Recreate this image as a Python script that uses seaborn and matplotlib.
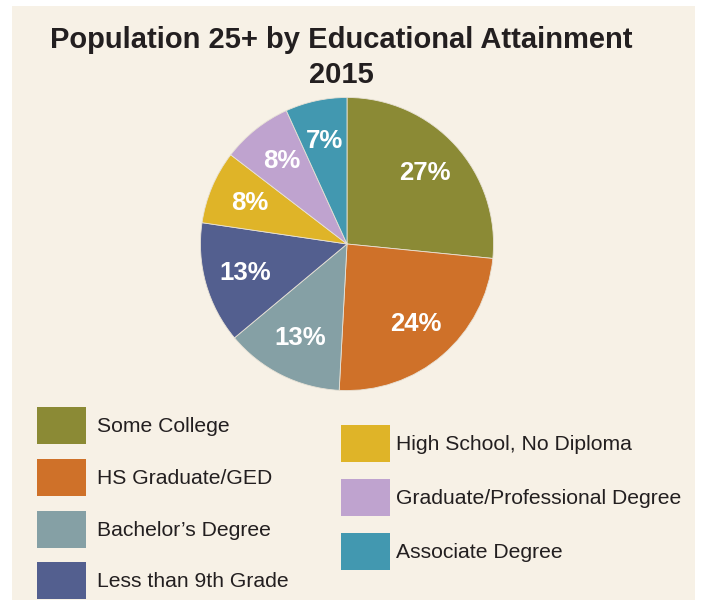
import matplotlib
matplotlib.use('Agg')
import matplotlib.pyplot as plt
import seaborn as sns
from matplotlib.patches import Rectangle, Patch

categorias=['Some College','HS Graduate/GED',"Bachelor\u2019s Degree",'Less than 9th Grade',
            'High School, No Diploma','Graduate/Professional Degree','Associate Degree']
valores=[26.6,24.3,13.1,13.4,8.1,7.8,6.8]
cores=['#8b8a35','#cf7129','#85a0a5','#535f8f','#dfb428','#bfa3cf','#4298b0']
titulo=['Population 25+ by Educational Attainment','2015']

sns.set_theme(style='white')
plt.rcParams['font.family']=['Liberation Sans','DejaVu Sans']
paleta=sns.color_palette(cores)

fig=plt.figure(figsize=(7.04,6.0),dpi=100,facecolor='white')
# fundo bege
fig.patches.append(Rectangle((12/704,0),(695-12)/704,1-6/600,transform=fig.transFigure,
                             facecolor='#f7f1e6',edgecolor='none',zorder=-5))

ax=fig.add_axes([(347-148)/704,(600-244-148)/600,296/704,296/600])
ax.patch.set_visible(False)
fatias,_,textos=ax.pie(valores,colors=paleta,startangle=90,counterclock=False,
                       autopct='%.0f%%',pctdistance=0.72,radius=1,
                       wedgeprops=dict(linewidth=0.6,edgecolor='#e8e2d6'))
for t in textos:
    t.set_color('white')
    t.set_fontweight('bold')
    t.set_fontsize(18.5)
ax.set_xlim(-1.01,1.01)
ax.set_ylim(-1.01,1.01)
ax.set_aspect('equal')
ax.axis('off')

fig.text(341/704,1-48/600,titulo[0],ha='center',va='baseline',fontsize=21,fontweight='bold',color='#231f20')
fig.text(341/704,1-83/600,titulo[1],ha='center',va='baseline',fontsize=21,fontweight='bold',color='#231f20')

alcas=[Patch(facecolor=c,edgecolor='none') for c in paleta]
estilo=dict(bbox_transform=fig.transFigure,frameon=False,fontsize=15.2,
            handlelength=2.32,handleheight=2.32,borderpad=0,borderaxespad=0)
leg1=fig.legend(alcas[:4],categorias[:4],loc='upper left',bbox_to_anchor=(37/704,1-407/600),
                labelspacing=0.7,handletextpad=0.5,**estilo)
leg2=fig.legend(alcas[4:],categorias[4:],loc='upper left',bbox_to_anchor=(341/704,1-425/600),
                labelspacing=0.8,handletextpad=0.3,**estilo)
for leg in (leg1,leg2):
    for t in leg.get_texts():
        t.set_color('#231f20')

fig.savefig('out.png',dpi=100,facecolor=fig.get_facecolor())
